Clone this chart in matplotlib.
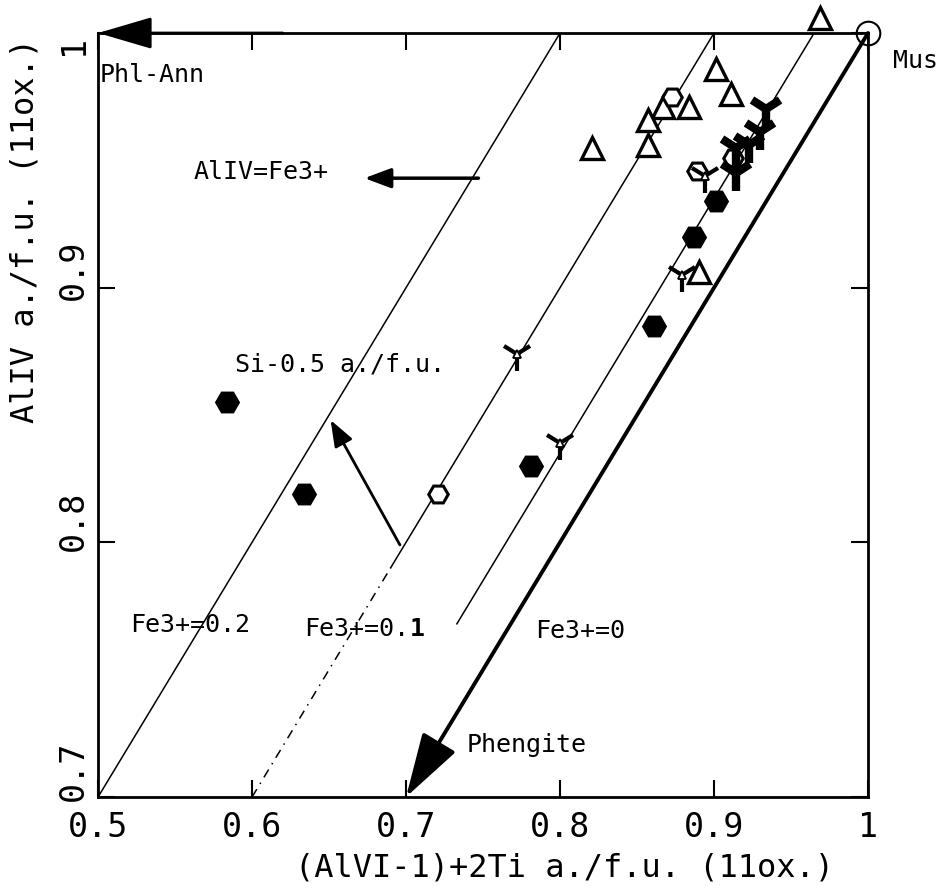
import matplotlib
matplotlib.use('Agg')
import matplotlib.pyplot as plt
from matplotlib.transforms import ScaledTranslation

plt.rcParams['font.family'] = ['DejaVu Sans Mono', 'DejaVu Sans']

# open triangles
tri_x = [0.969, 0.901, 0.911, 0.884, 0.867, 0.857, 0.857, 0.821, 0.890]
tri_y = [1.006, 0.986, 0.976, 0.971, 0.971, 0.966, 0.956, 0.955, 0.906]
# filled hexagons
hexf_x = [0.584, 0.634, 0.781, 0.861, 0.887, 0.901]
hexf_y = [0.855, 0.819, 0.830, 0.885, 0.920, 0.934]
# open hexagons
hexo_x = [0.721, 0.873, 0.912, 0.889]
hexo_y = [0.819, 0.975, 0.951, 0.946]
# open three-armed symbols
yo_x = [0.772, 0.800, 0.879, 0.894]
yo_y = [0.874, 0.839, 0.905, 0.944]
# filled three-armed symbols
yf_x = [0.934, 0.930, 0.914, 0.923, 0.914]
yf_y = [0.970, 0.961, 0.955, 0.956, 0.945]

# Fe3+ isolines  y = x + offset
line_off = [0.2, 0.1, 0.035]
line_x0 = [0.5, 0.69, 0.733]
line_x1 = [0.8, 0.9, 0.965]

xticks = [0.5, 0.6, 0.7, 0.8, 0.9, 1.0]
xticklabels = ['0.5', '0.6', '0.7', '0.8', '0.9', '1']
yticks = [0.7, 0.8, 0.9, 1.0]
yticklabels = ['0.7', '0.8', '0.9', '1']

fig = plt.figure(figsize=(9.43, 8.90), dpi=100)
ax = fig.add_axes([0.104, 0.1045, 0.8165, 0.8584])
ax.set_xlim(0.5, 1.0)
ax.set_ylim(0.7, 1.0)

for off, a, b in zip(line_off, line_x0, line_x1):
    ax.plot([a, b], [a + off, b + off], color='k', lw=1.1)
# broken lower part of the 0.1 line
ax.plot([0.6, 0.69], [0.7, 0.79], color='k', lw=1.1, ls=(0, (6, 4, 1, 4)))

arr = dict(color='k', shrinkA=0, shrinkB=0)
# Phengite arrow along y = x
ax.annotate('', xy=(0.7, 0.7), xytext=(1.0, 1.0),
            arrowprops=dict(arrowstyle='-|>,head_length=2.0,head_width=0.6',
                            mutation_scale=20, lw=2.8, **arr), annotation_clip=False)
# Phl-Ann arrow along top axis
ax.annotate('', xy=(0.5, 1.0), xytext=(0.62, 1.0),
            arrowprops=dict(arrowstyle='-|>,head_length=1.7,head_width=0.5',
                            mutation_scale=20, lw=2, **arr), annotation_clip=False)
# AlIV=Fe3+ arrow
ax.annotate('', xy=(0.673, 0.943), xytext=(0.747, 0.943),
            arrowprops=dict(arrowstyle='-|>,head_length=0.8,head_width=0.3',
                            mutation_scale=20, lw=2.5, **arr))
# Si-0.5 arrow
ax.annotate('', xy=(0.651, 0.848), xytext=(0.696, 0.799),
            arrowprops=dict(arrowstyle='-|>,head_length=0.8,head_width=0.3',
                            mutation_scale=20, lw=2, **arr))

ax.plot(tri_x, tri_y, ls='none', marker='^', ms=16, mfc='white', mec='k', mew=2.4,
        clip_on=False, zorder=5)
ax.plot(hexf_x, hexf_y, ls='none', marker='H', ms=17, mfc='k', mec='k', zorder=5)
ax.plot(hexo_x, hexo_y, ls='none', marker='H', ms=14, mfc='white', mec='k', mew=2.2,
        zorder=5)
ax.plot(yo_x, yo_y, ls='none', marker='1', ms=24, mec='k', mew=3, zorder=6)
ax.plot(yo_x, yo_y, ls='none', marker='^', ms=6, mfc='white', mec='k', mew=1.3, zorder=7)
ax.plot(yf_x, yf_y, ls='none', marker='1', ms=26, mec='k', mew=6, zorder=6)
# muscovite end member
ax.plot([1.0], [1.0], ls='none', marker='o', ms=17, mfc='none', mec='k', mew=1.5,
        clip_on=False, zorder=8)

ax.text(1.016, 0.989, 'Mus', fontsize=18, va='center', ha='left')
ax.text(0.501, 0.9835, 'Phl-Ann', fontsize=18, va='center', ha='left')
ax.text(0.5617, 0.9454, 'AlIV=Fe3+', fontsize=18, va='center', ha='left')
ax.text(0.589, 0.870, 'Si-0.5 a./f.u.', fontsize=18, va='center', ha='left')
ax.text(0.5208, 0.7675, 'Fe3+=0.2', fontsize=18, va='center', ha='left')
t01 = ax.text(0.634, 0.766, 'Fe3+=0.', fontsize=18, va='center', ha='left')
ax.annotate('1', xy=(1, 0.5), xycoords=t01, fontsize=18, fontweight='bold',
            va='center', ha='left')
ax.text(0.784, 0.765, 'Fe3+=0', fontsize=18, va='center', ha='left')
ax.text(0.7396, 0.7204, 'Phengite', fontsize=18, va='center', ha='left')

ax.set_xticks(xticks)
ax.set_xticklabels(xticklabels)
ax.set_yticks(yticks)
ax.set_yticklabels(yticklabels, rotation=90, va='center')
ax.tick_params(direction='in', length=12, width=1.5, top=True, right=True,
               labelsize=24)
ax.tick_params(axis='x', pad=10)
ax.tick_params(axis='y', pad=6)
for s in ax.spines.values():
    s.set_linewidth(2)

# y tick labels sit a little above their ticks in the original
shifts = [0.26, 0.22, 0.18, -0.12]
for lab, dy in zip(ax.get_yticklabels(), shifts):
    lab.set_transform(lab.get_transform() + ScaledTranslation(0, dy, fig.dpi_scale_trans))

ax.text(0.803, 0.672, '(AlVI-1)+2Ti a./f.u. (11ox.)', fontsize=23,
        ha='center', va='center')
ax.text(0.4526, 0.9226, 'AlIV a./f.u. (11ox.)', fontsize=23, rotation=90,
        ha='center', va='center')

fig.savefig('out.png', dpi=100)
